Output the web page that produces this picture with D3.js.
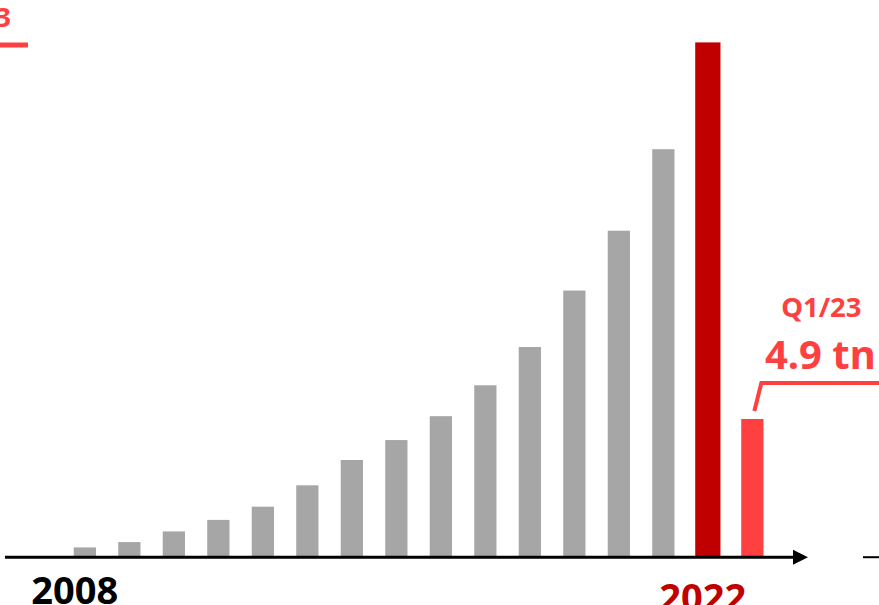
<!DOCTYPE html>
<html>
<head>
<meta charset="utf-8">
<script src="https://cdn.jsdelivr.net/npm/d3@7"></script>
<style>
  body { margin: 0; background: #fff; }
  svg { display: block; font-family: "Noto Sans", sans-serif; }
</style>
</head>
<body>
<svg id="chart" width="879" height="605"></svg>
<script>
// bar categories and values (tn)
const categories = ["2008", "2009", "2010", "2011", "2012", "2013", "2014", "2015",
                    "2016", "2017", "2018", "2019", "2020", "2021", "2022", "Q1/23"];
const values = [0.33, 0.52, 0.9, 1.31, 1.78, 2.54, 3.44, 4.15,
                5.0, 6.1, 7.46, 9.47, 11.6, 14.5, 18.3, 4.9];
const axisLabels = ["2008", "2022"];
const calloutPeriod = "Q1/23";
const calloutValue = "4.9 tn";

const gray = "#a6a6a6", darkRed = "#c00000", lightRed = "#ff4040";

const svg = d3.select("#chart");
const baseY = 556.7;

const x = d3.scaleBand()
    .domain(categories)
    .range([62.6, 774.6])
    .paddingInner(0.5)
    .paddingOuter(0.25);

const y = d3.scaleLinear()
    .domain([0, 18.3])
    .range([baseY, 42.4]);

function barColor(d) {
    if (d === "2022") return darkRed;
    if (d === "Q1/23") return lightRed;
    return gray;
}

// bars (the 2022 one is drawn a touch wider, as in the original)
svg.append("g")
    .selectAll("rect")
    .data(categories)
    .enter()
    .append("rect")
    .attr("x", d => d === "2022" ? x(d) - 1.5 : x(d))
    .attr("y", (d, i) => y(values[i]))
    .attr("width", d => d === "2022" ? x.bandwidth() + 3 : x.bandwidth())
    .attr("height", (d, i) => baseY - y(values[i]))
    .attr("fill", d => barColor(d));

// axis line with arrow
svg.append("line")
    .attr("x1", 5).attr("x2", 796)
    .attr("y1", baseY + 0.5).attr("y2", baseY + 0.5)
    .attr("stroke", "#000").attr("stroke-width", 3);
svg.append("path")
    .attr("d", `M793,${baseY - 7} L808,${baseY + 0.5} L793,${baseY + 8} Z`)
    .attr("fill", "#000");

// bit of the neighbouring panel's axis at the right edge
svg.append("line")
    .attr("x1", 863).attr("x2", 879)
    .attr("y1", baseY + 0.5).attr("y2", baseY + 0.5)
    .attr("stroke", "#000").attr("stroke-width", 2);

// year labels under the axis
svg.append("text")
    .attr("x", x("2008") + x.bandwidth() / 2 - 10)
    .attr("y", 604)
    .attr("text-anchor", "middle")
    .attr("font-size", 38).attr("font-weight", 700)
    .attr("fill", "#000")
    .text(axisLabels[0]);
svg.append("text")
    .attr("x", x("2022") + x.bandwidth() / 2 - 5)
    .attr("y", 611)
    .attr("text-anchor", "middle")
    .attr("font-size", 38).attr("font-weight", 700)
    .attr("fill", darkRed)
    .text(axisLabels[1]);

// callout for the latest quarter
const qx = x("Q1/23") + x.bandwidth() / 2;
const qy = y(values[15]);
svg.append("path")
    .attr("d", `M${qx + 2},${qy - 8} L${qx + 9},${qy - 36} L879,${qy - 36}`)
    .attr("fill", "none")
    .attr("stroke", lightRed)
    .attr("stroke-width", 4);
svg.append("text")
    .attr("x", qx + 69).attr("y", 316.7)
    .attr("text-anchor", "middle")
    .attr("font-size", 27.5).attr("font-weight", 700)
    .attr("fill", lightRed)
    .text(calloutPeriod);
svg.append("text")
    .attr("x", qx + 68).attr("y", 369.3)
    .attr("text-anchor", "middle")
    .attr("font-size", 40).attr("font-weight", 700)
    .attr("fill", lightRed)
    .text(calloutValue);

// remains of the previous panel's callout at top left
svg.append("text")
    .attr("x", 11).attr("y", 26.7)
    .attr("text-anchor", "end")
    .attr("font-size", 27.5).attr("font-weight", 700)
    .attr("fill", lightRed)
    .text("Q1/23");
svg.append("line")
    .attr("x1", 0).attr("x2", 28)
    .attr("y1", 45).attr("y2", 45)
    .attr("stroke", lightRed).attr("stroke-width", 5);
</script>
</body>
</html>
